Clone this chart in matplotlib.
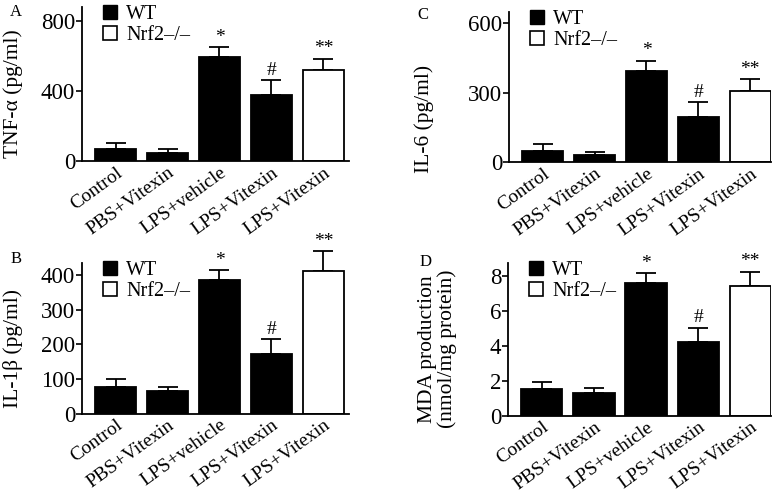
import matplotlib.pyplot as plt

plt.rcParams['font.family'] = ['Liberation Serif', 'DejaVu Serif']

# Data
groups = ["Control", "PBS+Vitexin", "LPS+vehicle", "LPS+Vitexin", "LPS+Vitexin"]
is_ko = [False, False, False, False, True]   # last bar is Nrf2-/-

tnf_mean = [70, 47, 594, 379, 518]
tnf_err = [33, 22, 57, 84, 67]
il6_mean = [49, 32, 393, 196, 305]
il6_err = [30, 13, 44, 62, 52]
il1b_mean = [77, 66, 387, 173, 411]
il1b_err = [22, 11, 27, 41, 58]
mda_mean = [1.52, 1.30, 7.55, 4.19, 7.38]
mda_err = [0.42, 0.32, 0.58, 0.84, 0.83]

tnf_marks = ["", "", "*", "#", "**"]
il6_marks = ["", "", "*", "#", "**"]
il1b_marks = ["", "", "*", "#", "**"]
mda_marks = ["", "", "*", "#", "**"]

fig = plt.figure(figsize=(7.82, 4.96), dpi=100)

panels = [
    # letter, letter pos (px), axes rect, means, errs, marks, ylim top, yticks, ylabel, label pos, xlim right
    ("A", (10, 12), [0.105, 0.675, 0.341, 0.311], tnf_mean, tnf_err, tnf_marks, 880, [0, 400, 800],
     "TNF-α (pg/ml)", (-0.22, 0.44), 4.49),
    ("C", (417, 15), [0.651, 0.673, 0.335, 0.303], il6_mean, il6_err, il6_marks, 647, [0, 300, 600],
     "IL-6 (pg/ml)", (-0.285, 0.29), 4.40),
    ("B", (11, 259), [0.105, 0.166, 0.341, 0.304], il1b_mean, il1b_err, il1b_marks, 435,
     [0, 100, 200, 300, 400], "IL-1β (pg/ml)", (-0.22, 0.43), 4.49),
    ("D", (420, 262), [0.650, 0.161, 0.336, 0.309], mda_mean, mda_err, mda_marks, 8.72,
     [0, 2, 4, 6, 8], "MDA production\n(nmol/mg protein)", (-0.195, 0.44), 4.40),
]

for letter, lpos, rect, means, errs, marks, ytop, yticks, ylabel, labpos, xr in panels:
    ax = fig.add_axes(rect)
    x = list(range(len(groups)))
    colors = ["white" if k else "black" for k in is_ko]
    ax.bar(x, means, width=0.79, color=colors, edgecolor="black", linewidth=1.3, zorder=2)
    ax.errorbar(x, means, yerr=[[0] * len(errs), errs], fmt="none", ecolor="black",
                elinewidth=1.3, capsize=7, capthick=1.3, zorder=1, clip_on=False)
    for xi, m, e, s in zip(x, means, errs, marks):
        if s:
            ax.annotate(s, (xi, m + e), xytext=(0, 1), textcoords="offset points",
                        ha="center", va="bottom", fontsize=14, annotation_clip=False)
    ax.set_xlim(-0.645, xr)
    ax.set_ylim(0, ytop)
    ax.set_yticks(yticks)
    ax.set_xticks(x)
    ax.set_xticklabels(groups, rotation=36, ha="right", va="top", rotation_mode="anchor",
                       fontsize=14)
    ax.tick_params(axis="y", labelsize=16.5, length=4, width=1.2, direction="out", pad=1)
    ax.tick_params(axis="x", length=0, pad=2)
    for side in ["top", "right"]:
        ax.spines[side].set_visible(False)
    for side in ["left", "bottom"]:
        ax.spines[side].set_linewidth(1.3)
    ax.set_ylabel(ylabel, fontsize=15.5, linespacing=1.0)
    ax.yaxis.set_label_coords(*labpos)

    wt = plt.Line2D([], [], marker="s", ls="none", markersize=10,
                    markerfacecolor="black", markeredgecolor="black")
    ko = plt.Line2D([], [], marker="s", ls="none", markersize=10,
                    markerfacecolor="white", markeredgecolor="black", markeredgewidth=1.2)
    ax.legend([wt, ko], ["WT", "Nrf2–/–"], loc="upper left", bbox_to_anchor=(0.03, 1.08),
              frameon=False, fontsize=14.5, handlelength=1.0, handletextpad=0.3,
              labelspacing=0.1, borderpad=0)

    fig.text(lpos[0] / 782, 1 - lpos[1] / 496, letter, fontsize=12, ha="left", va="center")

fig.savefig("out.png", dpi=100)
